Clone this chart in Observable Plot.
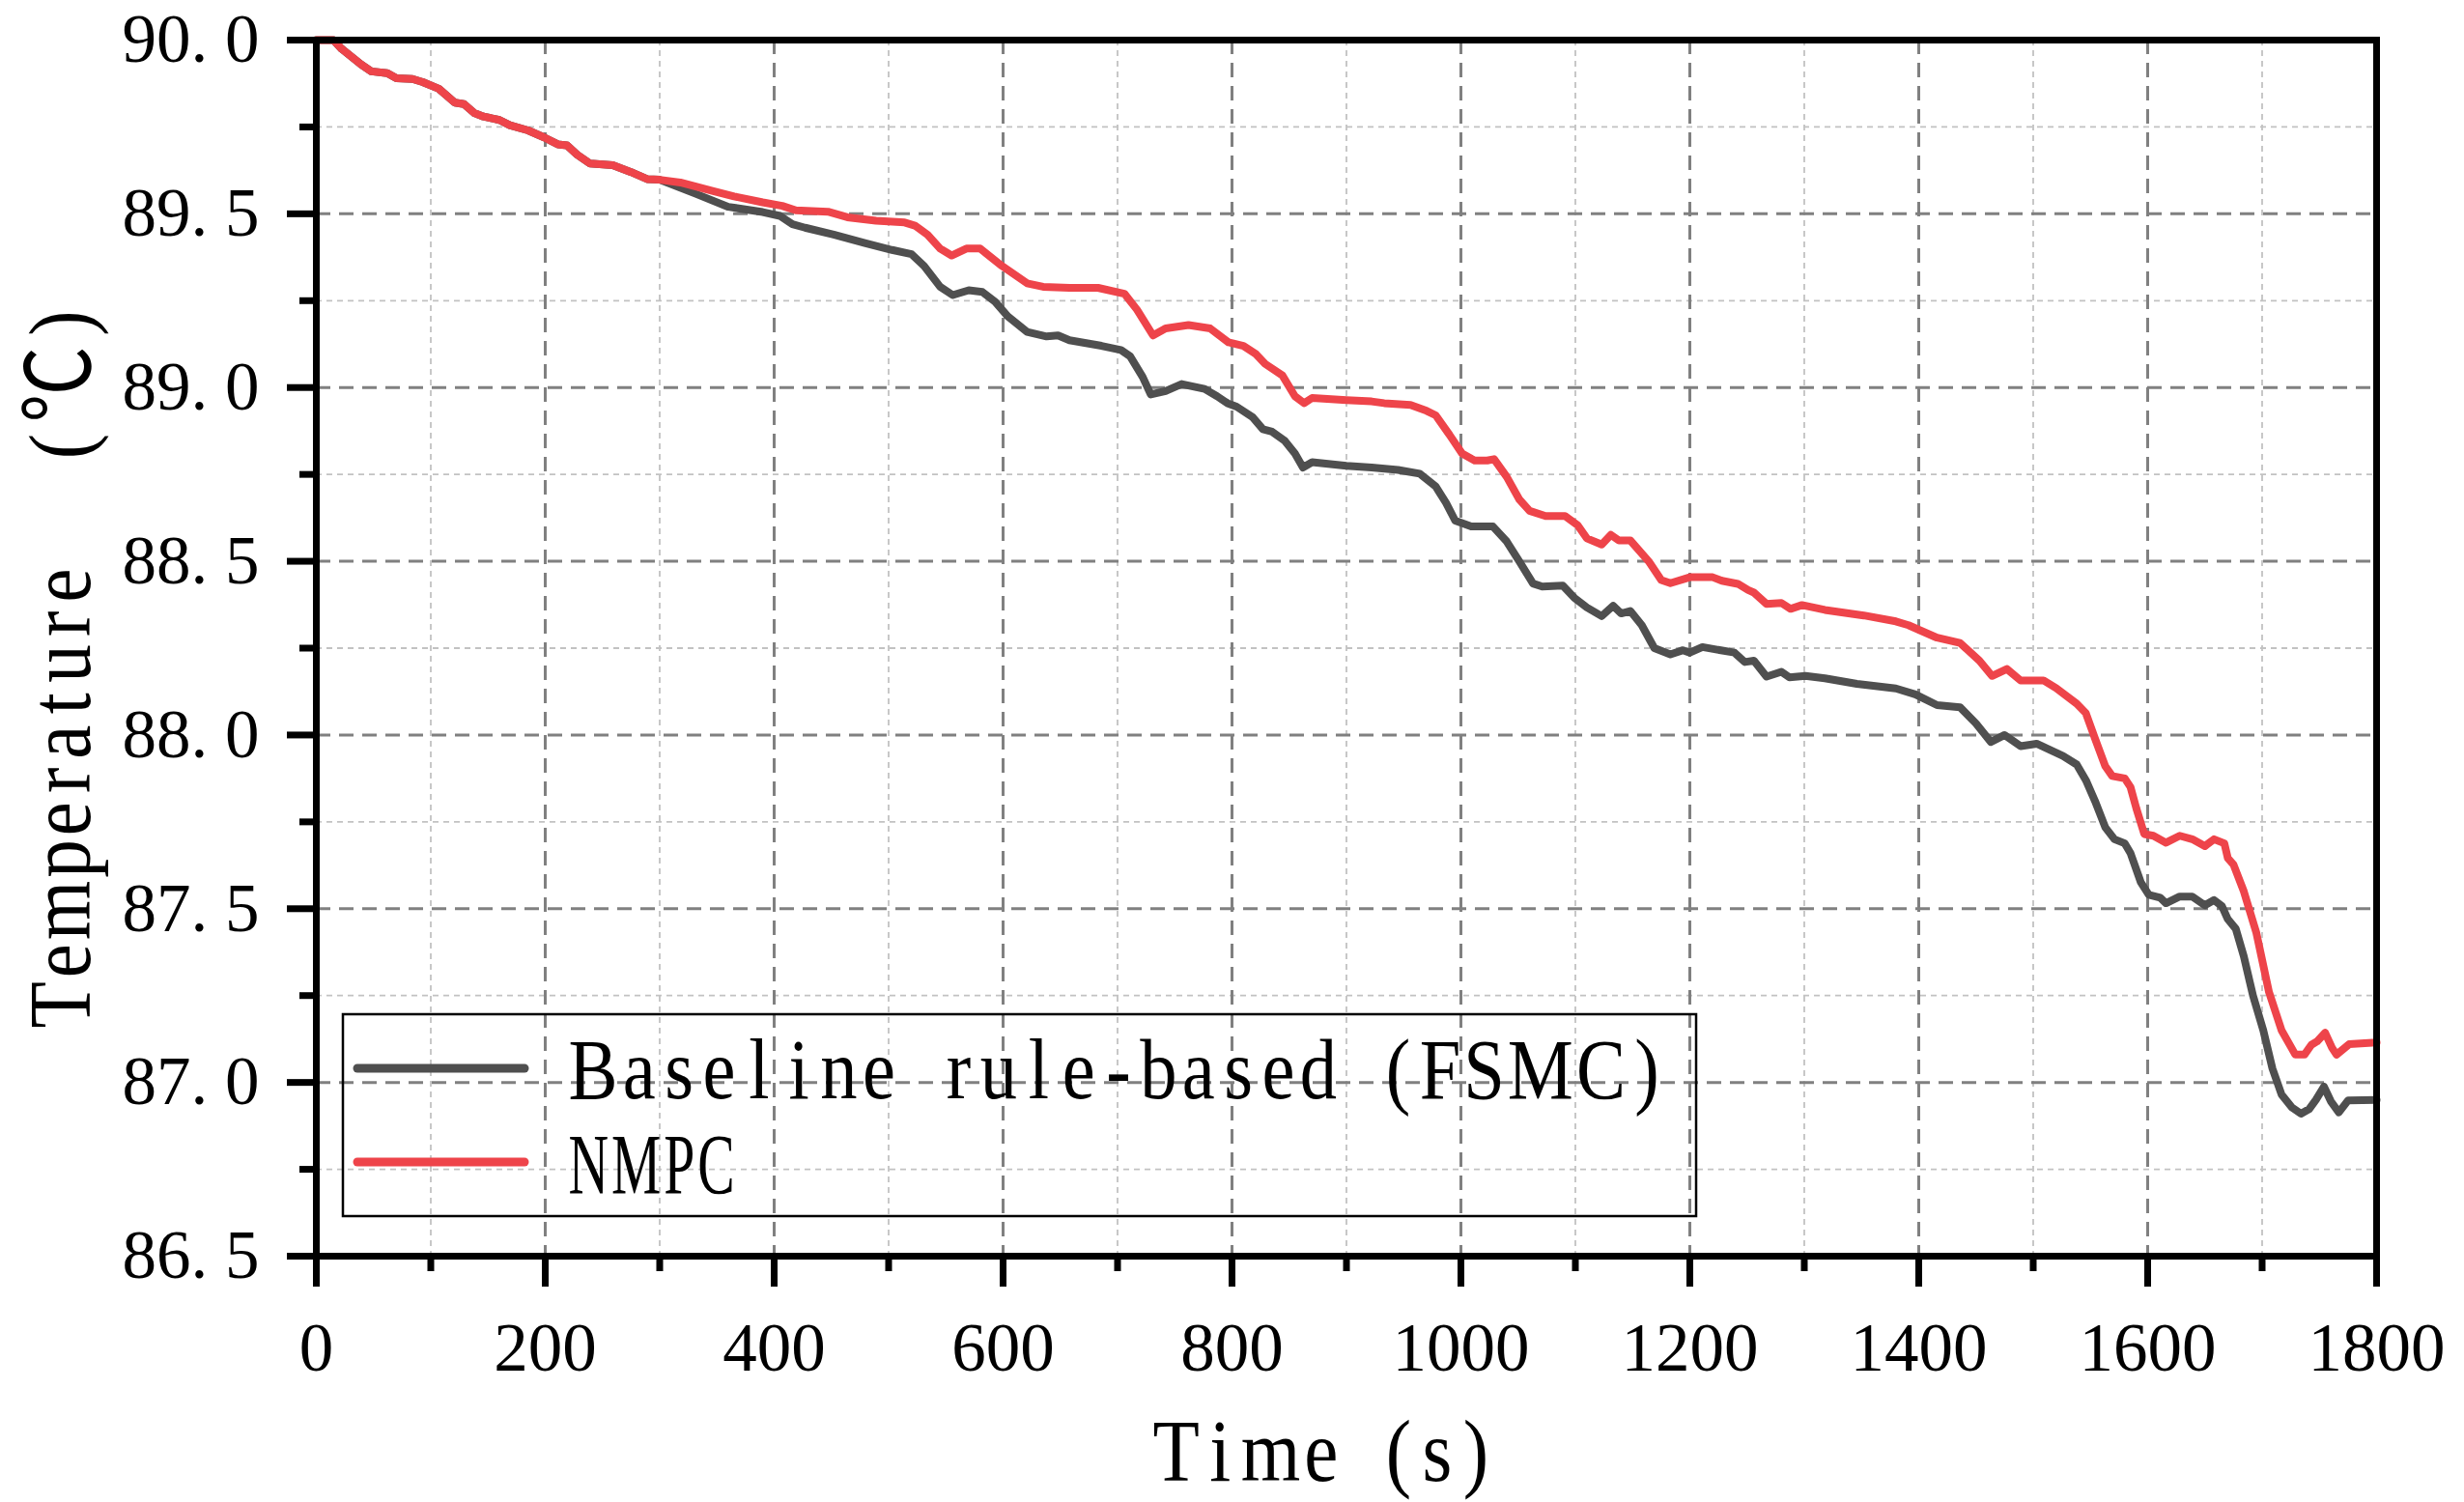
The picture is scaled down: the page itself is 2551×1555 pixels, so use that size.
<!DOCTYPE html>
<html>
<head>
<meta charset="utf-8">
<script src="https://cdn.jsdelivr.net/npm/d3@7"></script>
<script src="https://cdn.jsdelivr.net/npm/@observablehq/plot@0.6"></script>
<style>
  html, body { margin: 0; padding: 0; background: #ffffff; }
  #chart svg { display: block; }
</style>
</head>
<body>
<div id="chart"></div>
<script>
// Coolant temperature over one drive cycle: rule-based baseline vs. NMPC.
const fsmcTime = [0, 15, 22, 39, 48, 62, 70, 84, 93, 107, 121, 129, 138, 146, 160, 169, 185, 199, 211, 219, 228, 239, 259, 275, 289, 300,
  332, 360, 390, 405, 416, 427, 452, 480, 503, 520, 531, 545, 556, 570, 582, 593, 604, 621, 638, 648, 658, 686, 703, 711, 722, 729, 742, 756, 776,
  787, 796, 804, 818, 827, 835, 846, 855, 862, 870, 900, 922, 945, 964, 978, 987, 995, 1009, 1028, 1040, 1051, 1063, 1071, 1089, 1099, 1110, 1123,
  1133, 1140, 1148, 1158, 1169, 1183, 1194, 1200, 1211, 1239, 1248, 1256, 1267, 1280, 1287, 1301, 1318, 1346, 1380, 1397, 1416, 1436, 1450, 1463,
  1475, 1489, 1503, 1526, 1538, 1546, 1554, 1563, 1571, 1580, 1585, 1594, 1601, 1611, 1616, 1628, 1639, 1650, 1658, 1665, 1670, 1677, 1684, 1692,
  1701, 1709, 1717, 1726, 1734, 1741, 1747, 1754, 1760, 1767, 1775, 1800];
const fsmcTemp = [90.0, 90.0, 89.975, 89.93, 89.91, 89.905, 89.89, 89.888, 89.879, 89.86, 89.82, 89.816, 89.79, 89.78, 89.77, 89.755, 89.74, 89.72, 89.70, 89.697, 89.67, 89.645, 89.64, 89.62, 89.60, 89.598,
  89.557, 89.52, 89.505, 89.494, 89.47, 89.46, 89.44, 89.415, 89.396, 89.384, 89.35, 89.29, 89.266, 89.28, 89.275, 89.247, 89.205, 89.16, 89.147, 89.15, 89.136, 89.12, 89.108, 89.09, 89.03, 88.98, 88.99, 89.01, 88.996,
  88.975, 88.955, 88.945, 88.915, 88.88, 88.873, 88.847, 88.81, 88.77, 88.785, 88.775, 88.77, 88.763, 88.752, 88.715, 88.668, 88.617, 88.60, 88.60, 88.557, 88.50, 88.436, 88.427, 88.43, 88.395, 88.367, 88.342,
  88.372, 88.35, 88.357, 88.316, 88.25, 88.232, 88.244, 88.237, 88.253, 88.237, 88.21, 88.214, 88.168, 88.182, 88.166, 88.17, 88.163, 88.147, 88.134, 88.117, 88.086, 88.08, 88.033, 87.98,
  88.0, 87.968, 87.975, 87.94, 87.915, 87.87, 87.81, 87.734, 87.70, 87.688, 87.66, 87.576, 87.54, 87.532, 87.516, 87.535, 87.535, 87.51, 87.525, 87.507, 87.47, 87.442, 87.363, 87.25,
  87.15, 87.04, 86.965, 86.928, 86.91, 86.923, 86.95, 86.988, 86.946, 86.914, 86.948, 86.95];

const nmpcTime = [0, 15, 22, 39, 48, 62, 70, 84, 93, 107, 121, 129, 138, 146, 160, 169, 185, 199, 211, 219, 228, 239, 259, 275, 289, 300,
  318, 346, 365, 390, 407, 419, 447, 464, 489, 514, 523, 534, 545, 555, 568, 580, 599, 621, 635, 658, 683, 706, 717, 731, 742, 762, 781,
  797, 810, 821, 829, 844, 855, 863, 870, 900, 922, 933, 956, 970, 978, 990, 1001, 1012, 1023, 1029, 1040, 1051, 1060, 1074, 1091, 1102, 1110,
  1123, 1131, 1138, 1148, 1164, 1175, 1183, 1200, 1220, 1228, 1242, 1251, 1256, 1267, 1280, 1288, 1298, 1318, 1352, 1380, 1391, 1402, 1416,
  1436, 1453, 1464, 1477, 1489, 1509, 1520, 1538, 1546, 1554, 1563, 1569, 1580, 1585, 1590, 1597, 1605, 1616, 1628, 1639, 1650, 1658, 1667,
  1670, 1675, 1684, 1695, 1706, 1717, 1729, 1737, 1743, 1748, 1755, 1761, 1765, 1776, 1800];
const nmpcTemp = [90.0, 90.0, 89.975, 89.93, 89.91, 89.905, 89.89, 89.888, 89.879, 89.86, 89.82, 89.816, 89.79, 89.78, 89.77, 89.755, 89.74, 89.72, 89.70, 89.697, 89.67, 89.645, 89.64, 89.62, 89.60, 89.598,
  89.59, 89.566, 89.55, 89.533, 89.523, 89.51, 89.506, 89.49, 89.48, 89.475, 89.466, 89.44, 89.40, 89.38, 89.40, 89.40, 89.35, 89.30, 89.29, 89.287, 89.287, 89.27, 89.224, 89.15, 89.17, 89.18, 89.17,
  89.13, 89.12, 89.096, 89.068, 89.035, 88.975, 88.955, 88.97, 88.964, 88.96, 88.955, 88.95, 88.933, 88.92, 88.864, 88.81, 88.79, 88.79, 88.794, 88.743, 88.678, 88.645, 88.63, 88.63, 88.604, 88.566,
  88.548, 88.576, 88.56, 88.56, 88.50, 88.446, 88.437, 88.454, 88.454, 88.444, 88.435, 88.417, 88.41, 88.377, 88.38, 88.363, 88.374, 88.36, 88.344, 88.327, 88.316, 88.30, 88.28,
  88.265, 88.214, 88.17, 88.19, 88.157, 88.157, 88.135, 88.09, 88.063, 87.99, 87.91, 87.882, 87.875, 87.85, 87.79, 87.715, 87.71, 87.69, 87.71, 87.70, 87.68, 87.70, 87.688,
  87.646, 87.627, 87.55, 87.43, 87.26, 87.15, 87.08, 87.08, 87.108, 87.118, 87.143, 87.10, 87.08, 87.11, 87.115];

const seriesNames = ["Baseline rule-based (FSMC)", "NMPC"];
const seriesColors = ["#4f4f4f", "#ee444a"];

const xMajor = [0, 200, 400, 600, 800, 1000, 1200, 1400, 1600, 1800];
const xMinor = [100, 300, 500, 700, 900, 1100, 1300, 1500, 1700];
const yMajor = [86.5, 87.0, 87.5, 88.0, 88.5, 89.0, 89.5, 90.0];
const yMinor = [86.75, 87.25, 87.75, 88.25, 88.75, 89.25, 89.75];

const xTitle = "Time (s)";
const yTitle = "Temperature (℃)";

const fsmcRows = fsmcTime.map((t, i) => ({t, T: fsmcTemp[i]}));
const nmpcRows = nmpcTime.map((t, i) => ({t, T: nmpcTemp[i]}));

const SERIF = "'Liberation Serif', 'Noto Sans CJK SC', serif";
const W = 2551, H = 1555;
const LINE_W = 8;
const TICK_W = 7;
const FRAME_W = 7;

const chart = Plot.plot({
  width: W,
  height: H,
  marginLeft: 327,
  marginRight: 91,
  marginTop: 41,
  marginBottom: 255,
  style: {fontFamily: SERIF, background: "#ffffff", color: "#000000", overflow: "visible"},
  x: {domain: [0, 1800], label: null},
  y: {domain: [86.5, 90], label: null},
  marks: [
    Plot.gridX({ticks: xMinor, stroke: "#c2c2c2", strokeOpacity: 1, strokeWidth: 1.8, strokeDasharray: "6,5"}),
    Plot.gridY({ticks: yMinor, stroke: "#c2c2c2", strokeOpacity: 1, strokeWidth: 1.8, strokeDasharray: "6,5"}),
    Plot.gridX({ticks: xMajor, stroke: "#808080", strokeOpacity: 1, strokeWidth: 3, strokeDasharray: "15,9"}),
    Plot.gridY({ticks: yMajor, stroke: "#808080", strokeOpacity: 1, strokeWidth: 3, strokeDasharray: "15,9"}),
    Plot.line(fsmcRows, {x: "t", y: "T", stroke: seriesColors[0], strokeWidth: LINE_W, strokeLinejoin: "round", strokeLinecap: "round"}),
    Plot.line(nmpcRows, {x: "t", y: "T", stroke: seriesColors[1], strokeWidth: LINE_W, strokeLinejoin: "round", strokeLinecap: "round"}),
    Plot.axisX({ticks: xMinor, tickSize: 16, strokeWidth: TICK_W, tickFormat: () => "", label: null}),
    Plot.axisY({ticks: yMinor, tickSize: 17, strokeWidth: TICK_W, tickFormat: () => "", label: null}),
    Plot.axisX({ticks: xMajor, tickSize: 32, tickPadding: 36, strokeWidth: TICK_W, fontSize: 71, tickFormat: d => String(d), label: null}),
    Plot.axisY({ticks: yMajor, tickSize: 30, tickPadding: 29, strokeWidth: TICK_W, fontSize: 71, tickFormat: d => d.toFixed(1), label: null}),
    Plot.frame({stroke: "#000000", strokeWidth: FRAME_W})
  ]
});

document.getElementById("chart").appendChild(chart);
const svg = d3.select(chart);

// Make sure stroke weights are carried by the drawn elements themselves.
svg.selectAll('g[aria-label="x-axis tick"] *, g[aria-label="y-axis tick"] *').attr("stroke-width", TICK_W);
svg.selectAll('g[aria-label="line"] path').attr("stroke-width", LINE_W);
svg.selectAll('[aria-label="frame"]').attr("stroke-width", FRAME_W);

// Decimal tick labels: give the period a full digit cell, as in a fixed-pitch face.
svg.selectAll('g[aria-label="y-axis tick label"] text').each(function () {
  const s = this.textContent;
  const i = s.indexOf(".");
  if (i < 0) return;
  const el = d3.select(this);
  el.text(null);
  el.append("tspan").text(s.slice(0, i + 1));
  el.append("tspan").attr("dx", "0.25em").text(s.slice(i + 1));
});

// Near fixed-pitch text: characters sit in evenly sized cells, widened only where a
// glyph needs more room, with the whole run fitted to a given length.
function cellText(str, {x, y, size, cell, total, fixed = {}, rotate = 0, squeeze = 0.86, pad = 3}) {
  const chars = Array.from(str);
  const n = chars.length;
  const T = total != null ? total : n * cell;
  const probe = svg.append("text").attr("font-family", SERIF).attr("font-size", size);
  const adv = chars.map(ch => { probe.text(ch); return probe.node().getComputedTextLength(); });
  probe.remove();
  const autoIdx = chars.map((_, i) => i).filter(i => fixed[i] == null);
  const fixedSum = Object.values(fixed).reduce((a, b) => a + b, 0);
  const avail = T - fixedSum;
  const autoAdv = d3.sum(autoIdx, i => adv[i]);
  let sq = squeeze;
  if (autoAdv * sq + pad * autoIdx.length > avail) sq = (avail - pad * autoIdx.length) / autoAdv;
  const need = i => adv[i] * sq + pad;
  let lo = 0, hi = avail;
  for (let k = 0; k < 60; k++) {
    const mid = (lo + hi) / 2;
    const s = d3.sum(autoIdx, i => Math.max(need(i), mid));
    if (s > avail) hi = mid; else lo = mid;
  }
  const widths = chars.map((_, i) => fixed[i] != null ? fixed[i] : Math.max(need(i), lo));
  let acc = 0;
  const centers = widths.map(w => { const c = acc + w / 2; acc += w; return c; });
  return svg.append("text")
    .attr("transform", `translate(${x},${y}) rotate(${rotate}) scale(${sq},1)`)
    .attr("x", centers.map(v => (v / sq).toFixed(2)).join(" "))
    .attr("y", 0)
    .attr("text-anchor", "middle")
    .attr("font-family", SERIF)
    .attr("font-size", size)
    .attr("fill", "#000000")
    .text(str);
}

// Axis titles
cellText(xTitle, {x: 1192, y: 1533, size: 92, cell: 44.5});
cellText(yTitle, {x: 93, y: 1066, size: 92, total: 753, fixed: {11: 102, 12: 44, 13: 84, 14: 43}, rotate: -90});

// Legend
const legend = svg.append("g");
legend.append("rect")
  .attr("x", 355).attr("y", 1050).attr("width", 1401).attr("height", 209)
  .attr("fill", "none").attr("stroke", "#000000").attr("stroke-width", 2.5);
const rowY = [1106, 1203];
const textY = [1137, 1235];
seriesNames.forEach((name, i) => {
  legend.append("line")
    .attr("x1", 370).attr("x2", 543).attr("y1", rowY[i]).attr("y2", rowY[i])
    .attr("stroke", seriesColors[i]).attr("stroke-width", 9).attr("stroke-linecap", "round");
  cellText(name, {x: 587, y: textY[i], size: 89, cell: 43.8});
});
</script>
</body>
</html>
